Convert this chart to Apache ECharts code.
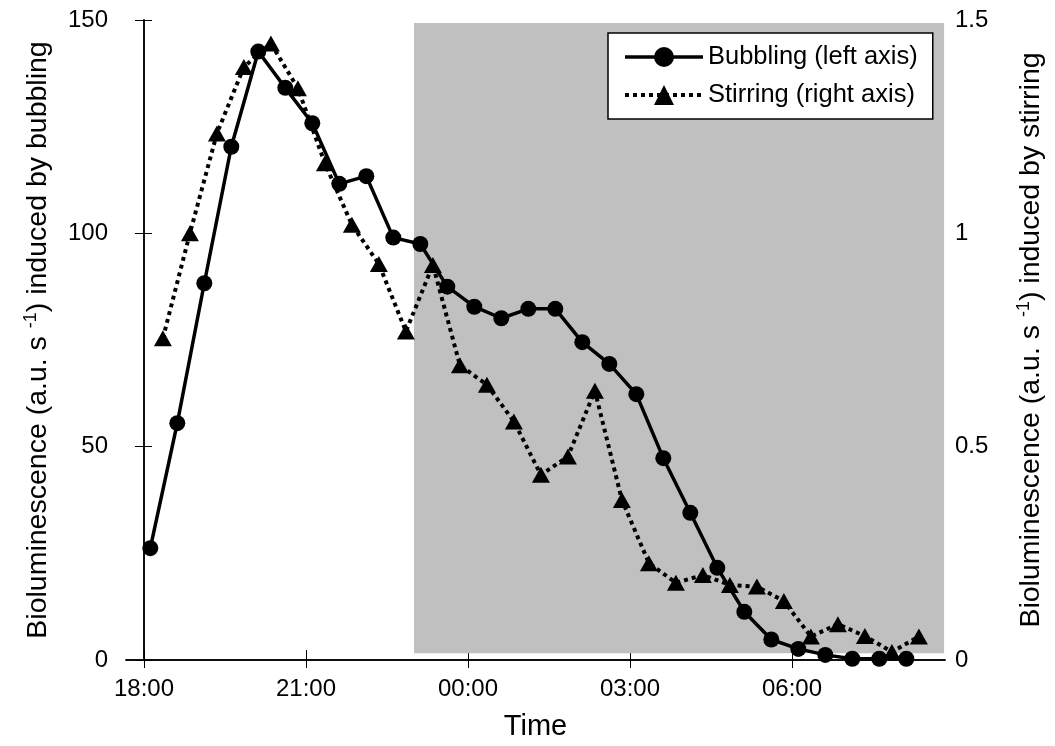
<!DOCTYPE html>
<html>
<head>
<meta charset="utf-8">
<script src="https://cdn.jsdelivr.net/npm/echarts@6/dist/echarts.min.js"></script>
<style>html,body{margin:0;padding:0;background:#fff;}#c{width:1055px;height:746px;}</style>
</head>
<body>
<div id="c"></div>
<script>
// Time of each measurement (clock time, night crosses midnight)
var bubblingTimes = ['18:07','18:37','19:07','19:37','20:07','20:37','21:07','21:37','22:07','22:37','23:07','23:37','00:07','00:37','01:07','01:37','02:07','02:37','03:07','03:37','04:07','04:37','05:07','05:37','06:07','06:37','07:07','07:37','08:07'];
var bubblingValues = [26.2,55.5,88.3,120.3,142.6,134.1,125.8,111.6,113.4,99.0,97.5,87.5,82.8,80.1,82.3,82.3,74.5,69.4,62.3,47.3,34.5,21.6,11.3,4.8,2.6,1.2,0.3,0.3,0.3];
var stirringTimes = ['18:21','18:51','19:21','19:51','20:21','20:51','21:21','21:51','22:21','22:51','23:21','23:51','00:21','00:51','01:21','01:51','02:21','02:51','03:21','03:51','04:21','04:51','05:21','05:51','06:21','06:51','07:21','07:51','08:21'];
var stirringValues = [0.754,1.0,1.234,1.39,1.445,1.34,1.164,1.02,0.928,0.77,0.926,0.691,0.645,0.559,0.434,0.477,0.631,0.375,0.227,0.181,0.199,0.176,0.172,0.138,0.055,0.084,0.056,0.019,0.055];
var xTickLabels = ['18:00','21:00','00:00','03:00','06:00'];
var darkStart = '23:00';
var xStart = '17:40', xEnd = '08:50';

function toMin(t){ // minutes after 18:00, next day past midnight
  var p=t.split(':'); var m=(+p[0])*60+(+p[1]); if(+p[0]<12) m+=24*60; return m-18*60;
}
function fmt(m){ var a=((m+18*60)%(24*60)); var h=Math.floor(a/60), mm=a%60; return (h<10?'0':'')+h+':'+(mm<10?'0':'')+mm; }
var tickVals = xTickLabels.map(toMin);
var bData = bubblingTimes.map(function(t,i){return [toMin(t), bubblingValues[i]];});
var sData = stirringTimes.map(function(t,i){return [toMin(t), stirringValues[i]];});
var xmin = toMin(xStart), xmax = toMin(xEnd);

var font = 'Liberation Sans, Arial, sans-serif';
var chart = echarts.init(document.getElementById('c'), null, {renderer:'canvas'});
var axisLine = {show:true, lineStyle:{color:'#000', width:1.5}};
chart.setOption({
  animation:false,
  backgroundColor:'#fff',
  grid:{left:126, right:110, top:20, bottom:86, containLabel:false},
  legend:{
    orient:'vertical', left:608, top:33, width:300,
    backgroundColor:'#fff', borderColor:'#000', borderWidth:1.5, borderRadius:0,
    padding:[11,15,11,15], itemGap:12, itemWidth:78, itemHeight:25,
    textStyle:{fontFamily:font, fontSize:25.5, color:'#000', padding:[0,0,0,0]},
    data:[
      {name:'Bubbling (left axis)', lineStyle:{width:3.5, type:'solid', color:'#000'}},
      {name:'Stirring (right axis)', lineStyle:{width:4, type:[4,4], color:'#000'}}
    ]
  },
  xAxis:[{
    type:'value', position:'bottom', min:xmin, max:xmax,
    name:'Time', nameLocation:'middle', nameGap:52,
    nameTextStyle:{fontFamily:font, fontSize:29, color:'#000'},
    axisLine:axisLine,
    axisTick:{show:true, inside:false, length:8, customValues:tickVals, lineStyle:{color:'#000',width:1}},
    axisLabel:{show:true, margin:17, customValues:tickVals, formatter:function(v){return fmt(v);}, fontFamily:font, fontSize:24, color:'#000'},
    splitLine:{show:false}
  },{
    type:'value', position:'top', min:xmin, max:xmax,
    axisLine:axisLine,
    axisTick:{show:true, inside:false, length:10, customValues:tickVals, lineStyle:{color:'#000',width:1}},
    axisLabel:{show:false},
    splitLine:{show:false}
  }],
  yAxis:[{
    type:'value', position:'left', min:0, max:150, interval:50,
    name:'Bioluminescence (a.u. s {sup|-1}) induced by bubbling',
    nameLocation:'middle', nameGap:72, nameRotate:90,
    nameTextStyle:{fontFamily:font, fontSize:28.5, color:'#000', rich:{sup:{fontFamily:font, fontSize:18, color:'#000', verticalAlign:'top', padding:[0,0,14,0]}}},
    axisLine:axisLine,
    axisTick:{show:true, inside:false, length:9, lineStyle:{color:'#000',width:1}},
    axisLabel:{margin:18, fontFamily:font, fontSize:24, color:'#000'},
    splitLine:{show:false}
  },{
    type:'value', position:'right', min:0, max:1.5, interval:0.5,
    name:'Bioluminescence (a.u. s {sup|-1}) induced by stirring',
    nameLocation:'middle', nameGap:70, nameRotate:90,
    nameTextStyle:{fontFamily:font, fontSize:28.5, color:'#000', rich:{sup:{fontFamily:font, fontSize:18, color:'#000', verticalAlign:'top', padding:[0,0,14,0]}}},
    axisLine:axisLine,
    axisTick:{show:true, inside:false, length:8, lineStyle:{color:'#000',width:1}},
    axisLabel:{margin:10, fontFamily:font, fontSize:24, color:'#000', formatter:function(v){return String(v);}},
    splitLine:{show:false}
  }],
  series:[{
    name:'Bubbling (left axis)', type:'line', xAxisIndex:0, yAxisIndex:0,
    data:bData, symbol:'circle', symbolSize:16,
    lineStyle:{color:'#000', width:3.5, type:'solid'},
    itemStyle:{color:'#000', borderWidth:0},
    z:3,
    markArea:{silent:true, itemStyle:{color:'#c0c0c0', opacity:1}, data:[[{xAxis:toMin(darkStart), yAxis:1.6},{xAxis:xmax-1, yAxis:149.3}]]}
  },{
    name:'Stirring (right axis)', type:'line', xAxisIndex:0, yAxisIndex:1,
    data:sData, symbol:'triangle', symbolSize:[18,16],
    lineStyle:{color:'#000', width:4, type:[4,4], cap:'butt'},
    itemStyle:{color:'#000', borderWidth:0},
    z:4
  }]
});
</script>
</body>
</html>
